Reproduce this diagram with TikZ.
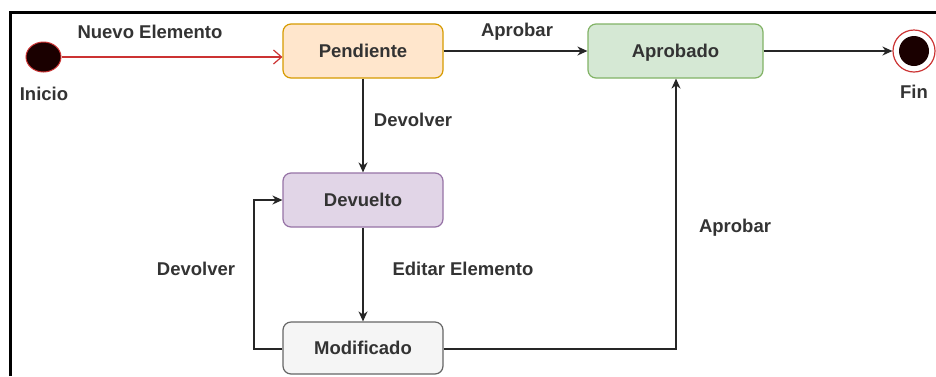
\documentclass[tikz,border=0pt]{standalone}
\usepackage{fontspec}
\setmainfont{Liberation Sans}
\usetikzlibrary{arrows.meta,positioning,shapes.geometric}
\definecolor{txt}{HTML}{333333}
\definecolor{orfill}{HTML}{FFE6CC}\definecolor{ordraw}{HTML}{D79B00}
\definecolor{grfill}{HTML}{D5E8D4}\definecolor{grdraw}{HTML}{82B366}
\definecolor{pufill}{HTML}{E1D5E7}\definecolor{pudraw}{HTML}{9673A6}
\definecolor{gyfill}{HTML}{F5F5F5}\definecolor{gydraw}{HTML}{666666}
\definecolor{redline}{HTML}{CC3333}
\definecolor{startfill}{HTML}{1A0000}
\tikzset{
  every node/.style={font=\fontsize{18.5}{20}\selectfont\bfseries, text=txt},
  statebox/.style={draw, rounded corners=8pt, line width=1.2pt, minimum width=160pt, minimum height=54pt, inner sep=0pt, text height=13.5pt, text depth=0.5pt},
  lbl/.style={inner sep=0pt},
  conn/.style={draw=black!85, line width=1.5pt, -{Stealth[length=10pt,width=9pt]}},
}
\begin{document}
\begin{tikzpicture}[x=1pt,y=-1pt]
\useasboundingbox (0,0) rectangle (936,376);
\fill[white] (0,0) rectangle (936,376);
% frame
\draw[line width=3.5pt, black] (10.5,376) -- (10.5,12.5) -- (936,12.5);

% start / end
\node[draw=redline, fill=startfill, ellipse, minimum width=35pt, minimum height=30pt, inner sep=0pt, line width=1pt] (inicio) at (43.5,57) {};
\node[lbl] (inicioL) at (44,94) {Inicio};
\node[draw=redline, fill=white, circle, minimum size=42pt, inner sep=0pt, line width=1.2pt] (fin) at (914,51) {};
\node[fill=startfill, circle, minimum size=30pt, inner sep=0pt] (finin) at (fin.center) {};
\node[lbl] (finL) at (914,92) {Fin};

% states
\node[statebox, draw=ordraw, fill=orfill] (pend) at (363,51) {Pendiente};
\node[statebox, draw=grdraw, fill=grfill, minimum width=175pt] (aprob) at (675.5,51) {Aprobado};
\node[statebox, draw=pudraw, fill=pufill] (dev) at (363,200) {Devuelto};
\node[statebox, draw=gydraw, fill=gyfill, minimum height=52pt] (mod) at (363,348) {Modificado};

% connectors
\draw[draw=redline, line width=1.2pt, -{Straight Barb[length=8pt,width=14pt]}] (inicio.east) -- (inicio.east -| pend.west);
\node[lbl] (l1) at (150,32) {Nuevo Elemento};

\draw[conn] (pend.east) -- (aprob.west);
\node[lbl] (l2) at (517,32) {Aprobar};

\draw[conn] (aprob.east) -- (fin.west);

\draw[conn] (pend.south) -- (dev.north);
\node[lbl] (l3) at (413,120) {Devolver};

\draw[conn] (dev.south) -- (mod.north);
\node[lbl] (l4) at (463,269) {Editar Elemento};

\coordinate (lA) at (254,349);
\coordinate (lB) at (254,200);
\draw[conn] (mod.west |- 0,349) -- (lA) -- (lB) -- (dev.west);
\node[lbl] (l5) at (196,269) {Devolver};

\coordinate (rA) at (676,349);
\draw[conn] (mod.east |- 0,349) -- (rA) -- (rA |- aprob.south);
\node[lbl] (l6) at (735,228) {Aprobar};
\end{tikzpicture}
\end{document}
